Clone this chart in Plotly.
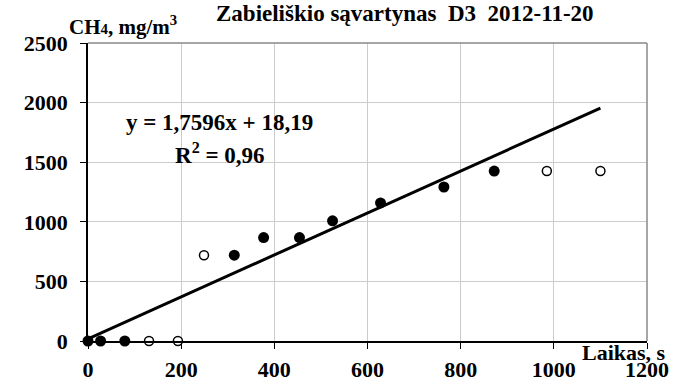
import plotly.graph_objects as go

# measured points
x_filled = [0, 27, 79, 314, 377, 454, 525, 628, 764, 872]
y_filled = [0, 0, 0, 720, 868, 868, 1008, 1158, 1292, 1426]
x_open = [131, 193, 249, 985, 1100]
y_open = [0, 0, 720, 1426, 1426]

# trend line y = 1.7596x + 18.19
trend_x = [0, 1100]
slope = 1.7596
intercept = 18.19
trend_y = [slope * v + intercept for v in trend_x]

x_ticks = [0, 200, 400, 600, 800, 1000, 1200]
y_ticks = [0, 500, 1000, 1500, 2000, 2500]

FONT = "Liberation Serif"
BF = lambda s: dict(family=FONT, size=s, color="black", weight="bold")

fig = go.Figure()
fig.add_trace(go.Scatter(x=trend_x, y=trend_y, mode="lines",
                         line=dict(color="black", width=3), cliponaxis=False,
                         showlegend=False))
fig.add_trace(go.Scatter(x=x_open, y=y_open, mode="markers",
                         marker=dict(symbol="circle", size=9, color="white",
                                     line=dict(color="black", width=1.5)),
                         cliponaxis=False, showlegend=False))
fig.add_trace(go.Scatter(x=x_filled, y=y_filled, mode="markers",
                         marker=dict(symbol="circle", size=11, color="black"),
                         cliponaxis=False, showlegend=False))

fig.update_layout(
    width=693, height=392,
    margin=dict(l=88, r=46, t=43, b=51),
    plot_bgcolor="white", paper_bgcolor="white",
    font=BF(20),
    xaxis=dict(range=[0, 1200], tickvals=x_ticks, showgrid=True,
               gridcolor="#cccccc", gridwidth=1,
               showline=True, linecolor="black", linewidth=1.5,
               ticks="outside", ticklen=6, tickcolor="black",
               tickfont=BF(22), automargin=False,
               ticklabelstandoff=2, zeroline=False, mirror=False),
    yaxis=dict(range=[0, 2500], tickvals=y_ticks, showgrid=True,
               gridcolor="#cccccc", gridwidth=1,
               showline=True, linecolor="black", linewidth=1.5,
               ticks="outside", ticklen=6, tickcolor="black",
               tickfont=BF(22), automargin=False,
               ticklabelstandoff=8, zeroline=False),
    shapes=[
        dict(type="line", xref="paper", yref="paper", x0=0, x1=1, y0=1, y1=1,
             line=dict(color="#888888", width=1.5)),
        dict(type="line", xref="paper", yref="paper", x0=1, x1=1, y0=0, y1=1,
             line=dict(color="#888888", width=1.5)),
    ],
    annotations=[
        dict(text="Zabieliškio sąvartynas  D3  2012-11-20", xref="paper", yref="paper",
             x=0.567, y=1.0, yshift=30, xanchor="center", yanchor="middle",
             showarrow=False, font=BF(23)),
        dict(text="CH<span style='font-size:15px'>4</span>, mg/m<sup>3</sup>",
             xref="paper", yref="paper", x=-0.038, y=1.0, yshift=18,
             xanchor="left", yanchor="middle", showarrow=False,
             font=BF(21)),
        dict(text="Laikas, s", xref="paper", yref="paper", x=1.037, y=0,
             yshift=-11, xanchor="right", yanchor="middle", showarrow=False,
             font=BF(22)),
        dict(text="y = 1,7596x + 18,19", xref="x", yref="y", x=283, y=1830,
             xanchor="center", yanchor="middle", showarrow=False,
             font=BF(23)),
        dict(text="R<sup>2</sup> = 0,96", xref="x", yref="y", x=283, y=1575,
             xanchor="center", yanchor="middle", showarrow=False,
             font=BF(23)),
    ],
)

fig.write_html("out.html")
